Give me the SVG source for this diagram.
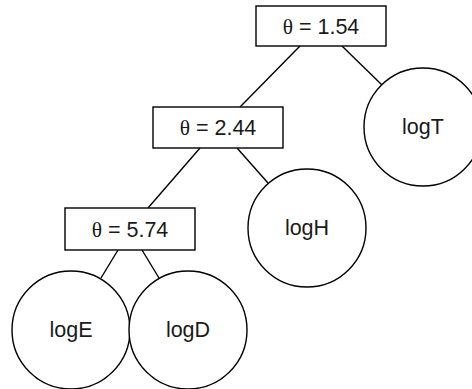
<svg xmlns="http://www.w3.org/2000/svg" width="472" height="389" viewBox="0 0 472 389">
<style>
.box{fill:#fff;stroke:#000;stroke-width:1.4}
.leaf{fill:#fff;stroke:#000;stroke-width:1.4}
.edge{stroke:#000;stroke-width:1.4;fill:none}
text{font-family:"Liberation Sans",Arial,sans-serif;font-size:21.5px;fill:#1a1a1a;text-anchor:middle}
.th{font-family:"Liberation Serif","Times New Roman",serif}
</style>
<rect width="472" height="389" fill="#fff"/>
<g id="connectors">
<line class="edge" x1="300" y1="46" x2="240" y2="107"/>
<line class="edge" x1="342" y1="46" x2="382" y2="85"/>
<line class="edge" x1="200" y1="148" x2="148" y2="208"/>
<line class="edge" x1="237" y1="148" x2="268" y2="183"/>
<line class="edge" x1="118" y1="250" x2="101" y2="278"/>
<line class="edge" x1="142" y1="250" x2="159" y2="278"/>
</g>
<g id="split1">
<rect class="box" x="256" y="6" width="130" height="40"/>
<text x="321" y="34"><tspan class="th">θ</tspan> = 1.54</text>
</g>
<g id="split2">
<rect class="box" x="153" y="107" width="130" height="41"/>
<text x="218" y="135"><tspan class="th">θ</tspan> = 2.44</text>
</g>
<g id="split3">
<rect class="box" x="65" y="208" width="130" height="42"/>
<text x="130" y="237"><tspan class="th">θ</tspan> = 5.74</text>
</g>
<g id="logT">
<circle class="leaf" cx="423" cy="127" r="59"/>
<text x="423" y="134">logT</text>
</g>
<g id="logH">
<circle class="leaf" cx="307" cy="228" r="59"/>
<text x="307" y="235">logH</text>
</g>
<g id="logE">
<circle class="leaf" cx="71" cy="330" r="59"/>
<text x="71" y="337">logE</text>
</g>
<g id="logD">
<circle class="leaf" cx="188" cy="330" r="59"/>
<text x="188" y="337">logD</text>
</g>
</svg>
